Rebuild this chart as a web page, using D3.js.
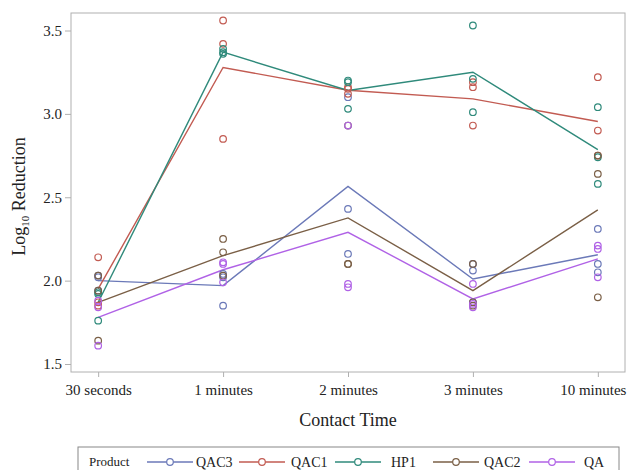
<!DOCTYPE html>
<meta charset="utf-8">
<script src="https://d3js.org/d3.v7.min.js"></script>
<style>
  body { margin: 0; background: #fff; }
  text { font-family: "Liberation Serif", "DejaVu Serif", serif; fill: #222; }
</style>
<div id="my_dataviz"></div>
<script>

// contact times on the x axis
const times = ["30 seconds", "1 minutes", "2 minutes", "3 minutes", "10 minutes"]
const products = ["QAC3", "QAC1", "HP1", "QAC2", "QA"]
const yTicks = [1.5, 2.0, 2.5, 3.0, 3.5]

// mean line per product (one value per contact time)
const meanQAC3 = [2.00, 1.97, 2.565, 2.01, 2.155]
const meanQAC1 = [1.95, 3.278, 3.142, 3.09, 2.954]
const meanHP1  = [1.87, 3.37, 3.14, 3.25, 2.786]
const meanQAC2 = [1.87, 2.15, 2.376, 1.94, 2.424]
const meanQA   = [1.78, 2.065, 2.29, 1.89, 2.13]

// replicate observations per product, 3 per contact time
const obsQAC3 = [[2.03, 2.02, 1.94], [2.04, 2.02, 1.85], [3.10, 2.43, 2.16], [2.10, 2.06, 1.87], [2.31, 2.10, 2.05]]
const obsQAC1 = [[2.14, 1.87, 1.85], [3.56, 3.42, 2.85], [3.16, 3.15, 3.12], [3.19, 3.16, 2.93], [3.22, 2.90, 2.75]]
const obsHP1  = [[1.93, 1.92, 1.76], [3.39, 3.37, 3.36], [3.20, 3.19, 3.03], [3.53, 3.21, 3.01], [3.04, 2.74, 2.58]]
const obsQAC2 = [[2.03, 1.94, 1.64], [2.25, 2.17, 2.03], [2.93, 2.10, 2.10], [2.10, 1.87, 1.85], [2.75, 2.64, 1.90]]
const obsQA   = [[1.88, 1.84, 1.61], [2.11, 2.10, 1.99], [2.93, 1.98, 1.96], [1.98, 1.86, 1.84], [2.21, 2.19, 2.02]]

const means = {QAC3: meanQAC3, QAC1: meanQAC1, HP1: meanHP1, QAC2: meanQAC2, QA: meanQA}
const obs = {QAC3: obsQAC3, QAC1: obsQAC1, HP1: obsHP1, QAC2: obsQAC2, QA: obsQA}

const color = d3.scaleOrdinal()
  .domain(products)
  .range(["#6b79b8", "#c25b52", "#2f8a7b", "#7a5f46", "#b062e6"])

const W = 628, H = 470
const frame = {left: 71, right: 625, top: 13, bottom: 372}

const svg = d3.select("#my_dataviz")
  .append("svg")
  .attr("width", W)
  .attr("height", H)

// point scale with padding so the first/last categories sit inside the frame
const x = d3.scalePoint()
  .domain(times)
  .range([frame.left, frame.right])
  .padding(0.2175)

const y = d3.scaleLinear()
  .domain([1.5, 3.5])
  .range([364, 30.5])

// frame
svg.append("rect")
  .attr("x", frame.left)
  .attr("y", frame.top)
  .attr("width", frame.right - frame.left)
  .attr("height", frame.bottom - frame.top)
  .attr("fill", "none")
  .attr("stroke", "#b0b0b0")
  .attr("stroke-width", 1)

// y axis
const yAxis = svg.append("g")
  .attr("transform", `translate(${frame.left},0)`)
  .call(d3.axisLeft(y).tickValues(yTicks).tickFormat(d3.format(".1f")).tickSize(6).tickPadding(3))
yAxis.select(".domain").remove()
yAxis.selectAll("line").attr("stroke", "#b0b0b0")
yAxis.selectAll("text").style("font-size", "15px").attr("fill", "#222")

// x axis
const xAxis = svg.append("g")
  .attr("transform", `translate(0,${frame.bottom})`)
  .call(d3.axisBottom(x).tickSize(5).tickPadding(7))
xAxis.select(".domain").remove()
xAxis.selectAll("line").attr("stroke", "#b0b0b0")
xAxis.selectAll("text").style("font-size", "15px").attr("fill", "#222")
// last label runs into the right edge; nudge it in a little
xAxis.selectAll("text").filter(d => d === "10 minutes").attr("dx", -5)

// axis titles
svg.append("text")
  .attr("x", (frame.left + frame.right) / 2)
  .attr("y", 426)
  .attr("text-anchor", "middle")
  .style("font-size", "18px")
  .text("Contact Time")

const yTitle = svg.append("text")
  .attr("transform", `translate(25,${(frame.top + frame.bottom) / 2 + 4}) rotate(-90)`)
  .attr("text-anchor", "middle")
  .style("font-size", "18px")
yTitle.append("tspan").text("Log")
yTitle.append("tspan").text("10").style("font-size", "11px").attr("dy", 4)
yTitle.append("tspan").text(" Reduction").attr("dy", -4)

// mean lines
const line = d3.line()
  .x((d, i) => x(times[i]))
  .y(d => y(d))

products.forEach(function (p) {
  svg.append("path")
    .datum(means[p])
    .attr("d", line)
    .attr("fill", "none")
    .attr("stroke", color(p))
    .attr("stroke-width", 1.4)
})

// replicate circles
products.forEach(function (p) {
  const pts = []
  obs[p].forEach((vals, i) => vals.forEach(v => pts.push({t: times[i], v: v})))
  svg.selectAll(null)
    .data(pts)
    .join("circle")
    .attr("cx", d => x(d.t))
    .attr("cy", d => y(d.v))
    .attr("r", 3.3)
    .attr("fill", "none")
    .attr("stroke", color(p))
    .attr("stroke-width", 1.2)
})

// legend
const leg = svg.append("g")
leg.append("rect")
  .attr("x", 78)
  .attr("y", 447)
  .attr("width", 541)
  .attr("height", 30)
  .attr("fill", "none")
  .attr("stroke", "#888")

leg.append("text")
  .attr("x", 89)
  .attr("y", 466)
  .style("font-size", "13px")
  .text("Product")

const legItems = [
  {p: "QAC3", x0: 147, tx: 196},
  {p: "QAC1", x0: 239, tx: 291},
  {p: "HP1", x0: 335, tx: 391},
  {p: "QAC2", x0: 433, tx: 484},
  {p: "QA", x0: 529, tx: 584}
]
legItems.forEach(function (d) {
  leg.append("line")
    .attr("x1", d.x0).attr("x2", d.x0 + 46)
    .attr("y1", 462).attr("y2", 462)
    .attr("stroke", color(d.p))
    .attr("stroke-width", 1.4)
  leg.append("circle")
    .attr("cx", d.x0 + 23).attr("cy", 462).attr("r", 3.3)
    .attr("fill", "#fff")
    .attr("stroke", color(d.p))
    .attr("stroke-width", 1.2)
  leg.append("text")
    .attr("x", d.tx)
    .attr("y", 467)
    .style("font-size", "14px")
    .text(d.p)
})

</script>
